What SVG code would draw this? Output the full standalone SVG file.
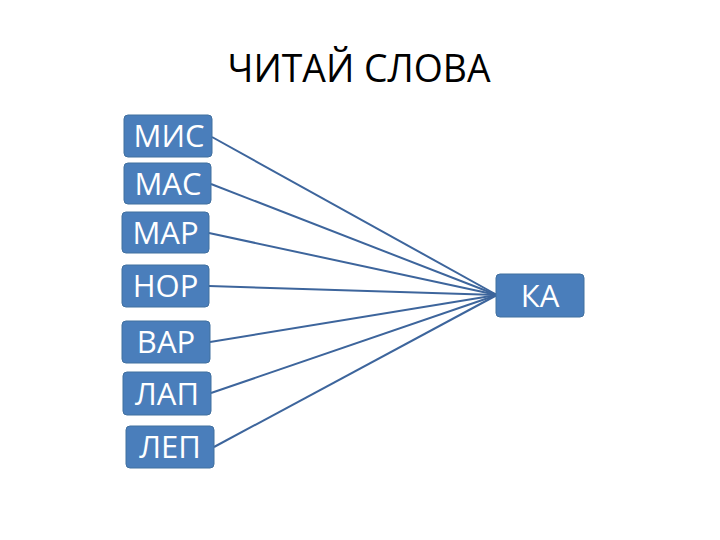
<svg xmlns="http://www.w3.org/2000/svg" width="720" height="540" viewBox="0 0 720 540">
<style>
.box{fill:#4a7ebb;stroke:#41709f;stroke-width:1}
.lbl{font-family:"Open Sans","Liberation Sans",sans-serif;font-size:31px;fill:#ffffff;text-anchor:middle}
.title{font-family:"Open Sans","Liberation Sans",sans-serif;font-size:38px;fill:#000000;text-anchor:middle}
.conn line{stroke:#3d659c;stroke-width:2}
</style>
<rect width="720" height="540" fill="#ffffff"/>
<text class="title" x="359" y="82" textLength="263" lengthAdjust="spacingAndGlyphs">ЧИТАЙ СЛОВА</text>
<g class="conn">
<line x1="212" y1="137" x2="497" y2="295"/>
<line x1="211" y1="184" x2="497" y2="295"/>
<line x1="209" y1="233" x2="497" y2="295"/>
<line x1="209" y1="286" x2="497" y2="295"/>
<line x1="210" y1="342" x2="497" y2="295"/>
<line x1="211" y1="393" x2="497" y2="295"/>
<line x1="214" y1="447" x2="497" y2="295"/>
</g>
<g id="n-mis"><rect class="box" x="124" y="115" width="88" height="42" rx="4"/><text class="lbl" x="169" y="147">МИС</text></g>
<g id="n-mas"><rect class="box" x="124" y="163" width="87" height="41" rx="4"/><text class="lbl" x="168" y="195">МАС</text></g>
<g id="n-mar"><rect class="box" x="122" y="212" width="87" height="41" rx="4"/><text class="lbl" x="165.5" y="244">МАР</text></g>
<g id="n-nor"><rect class="box" x="122" y="265" width="87" height="42" rx="4"/><text class="lbl" x="165.5" y="297">НОР</text></g>
<g id="n-var"><rect class="box" x="122" y="321" width="88" height="42" rx="4"/><text class="lbl" x="166" y="353">ВАР</text></g>
<g id="n-lap"><rect class="box" x="123" y="372" width="88" height="43" rx="4"/><text class="lbl" x="167" y="405">ЛАП</text></g>
<g id="n-lep"><rect class="box" x="126" y="426" width="88" height="42" rx="4"/><text class="lbl" x="170" y="458">ЛЕП</text></g>
<g id="n-ka"><rect class="box" x="496" y="274" width="88" height="43" rx="4"/><text class="lbl" x="540" y="307">КА</text></g>
</svg>
